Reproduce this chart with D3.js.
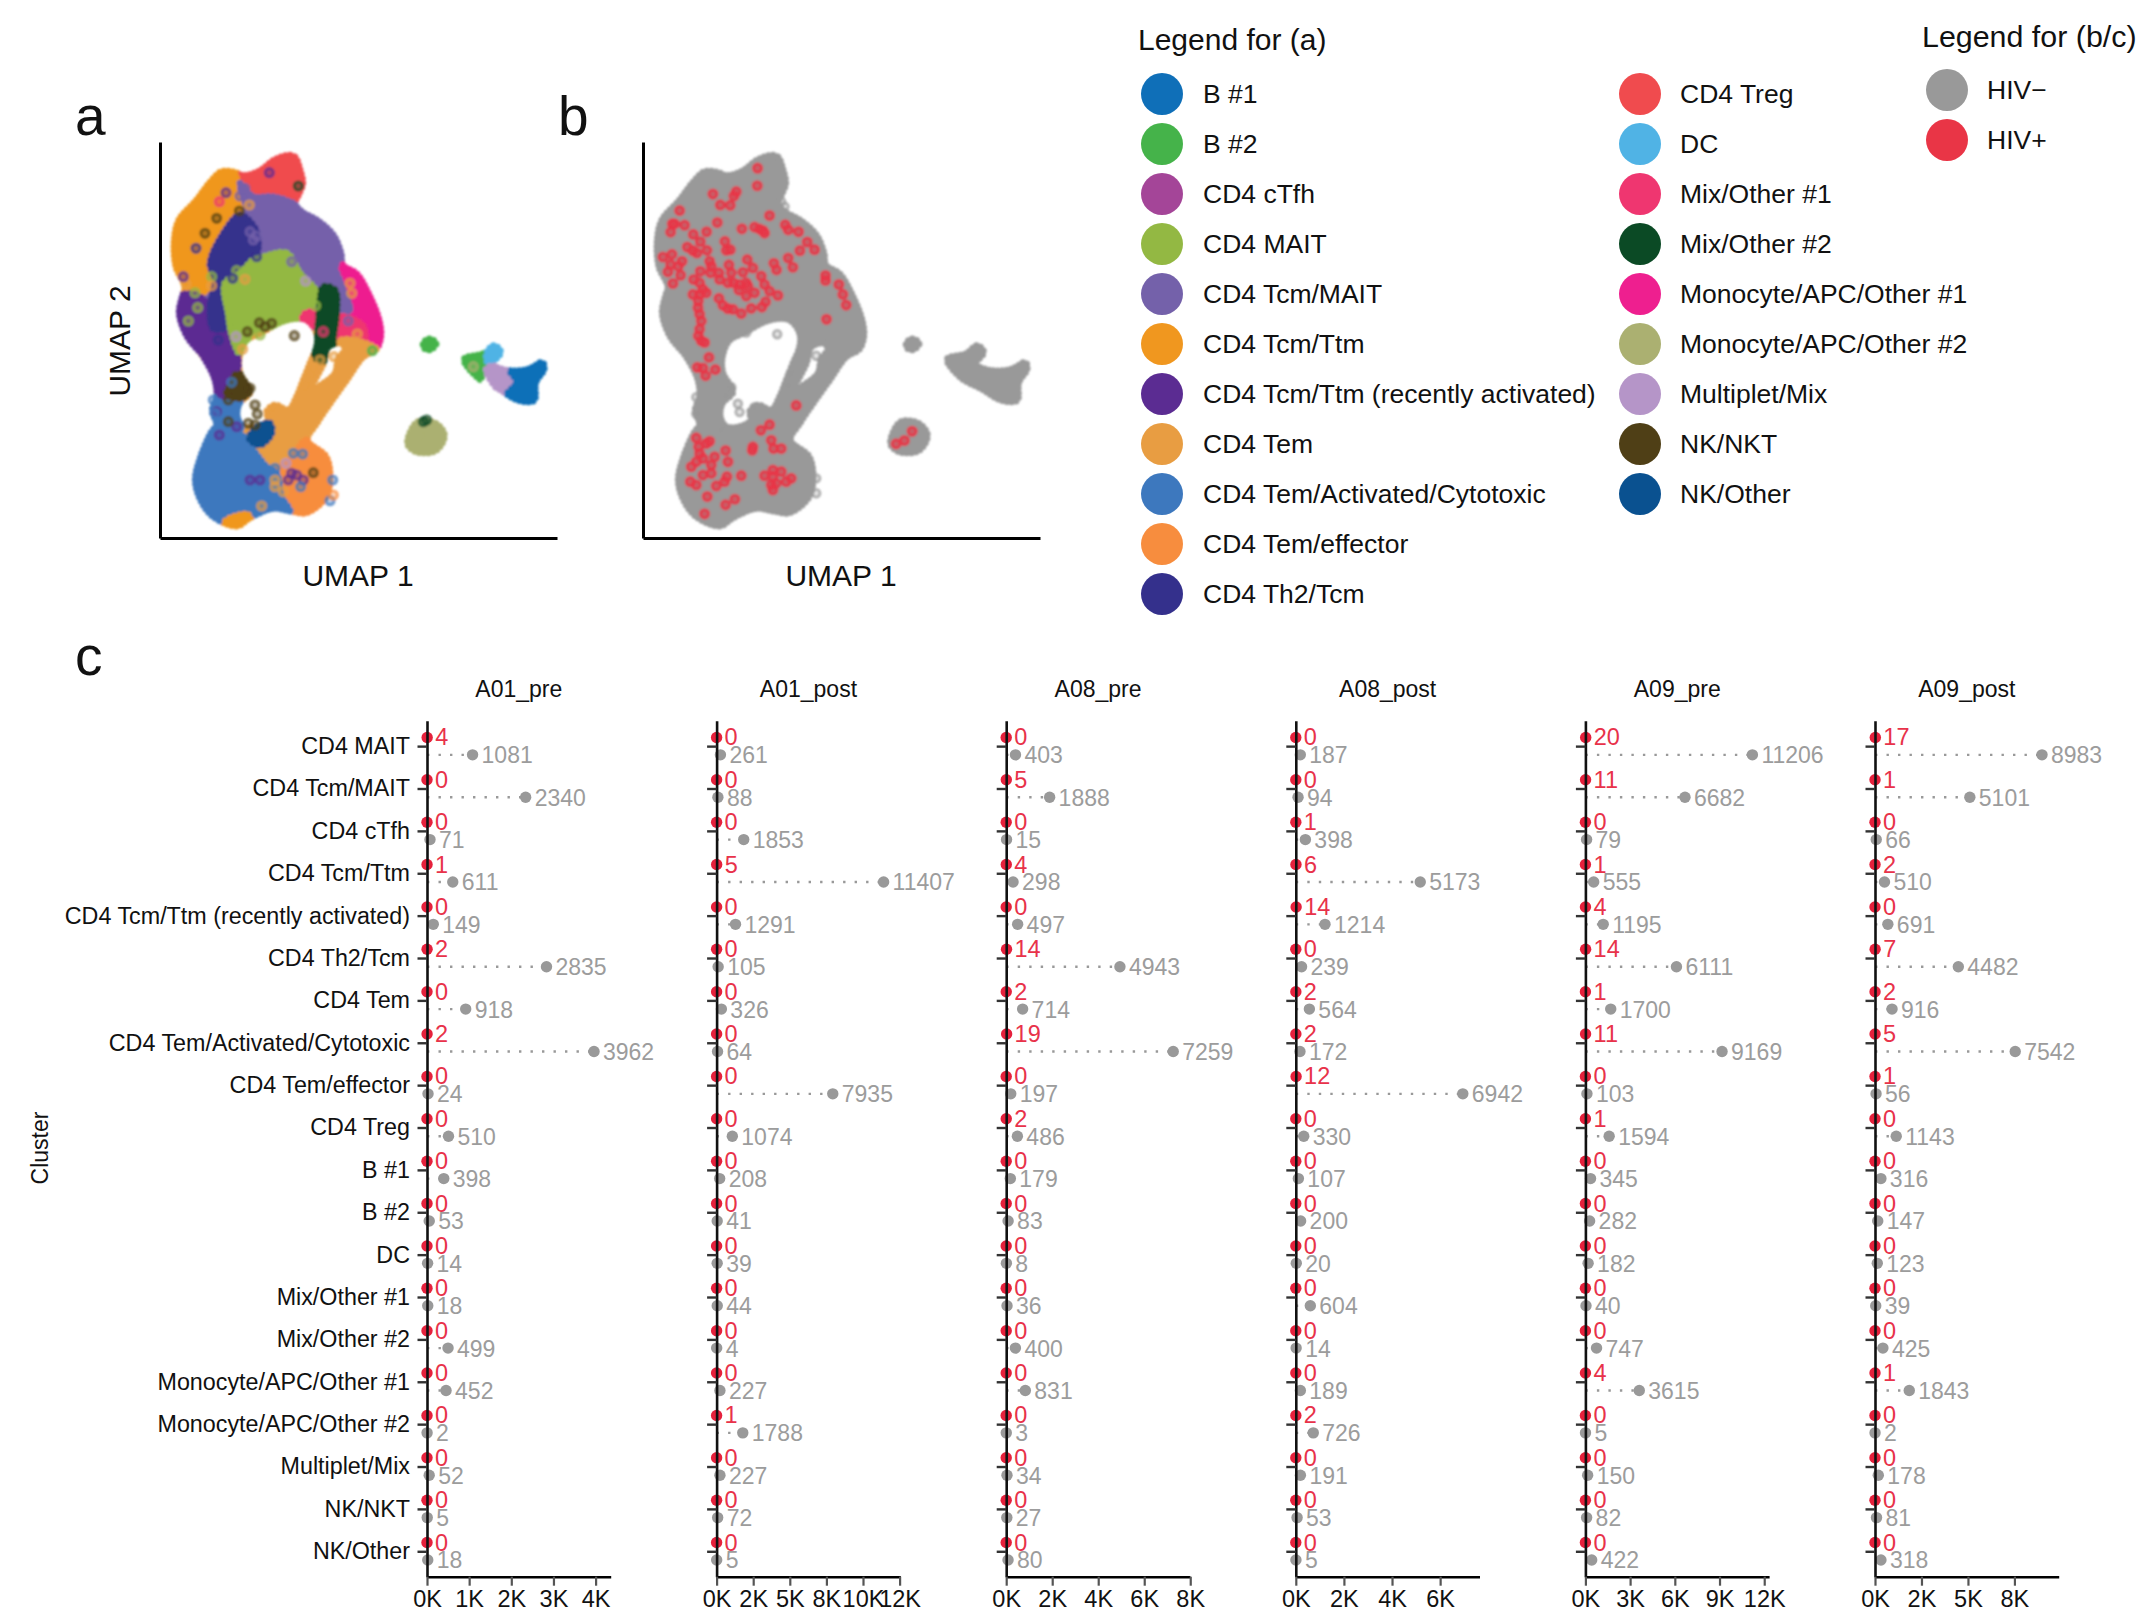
<html>
<head>
<meta charset="utf-8">
<title>UMAP and HIV counts</title>
<script src="https://d3js.org/d3.v7.min.js"></script>
<style>
  body { margin: 0; background: #fff; }
  text { font-family: "Liberation Sans", Helvetica, Arial, sans-serif; fill: #111; }
</style>
</head>
<body>
<script>
// cluster names, top to bottom in panel c
var clusters = ["CD4 MAIT", "CD4 Tcm/MAIT", "CD4 cTfh", "CD4 Tcm/Ttm", "CD4 Tcm/Ttm (recently activated)", "CD4 Th2/Tcm", "CD4 Tem", "CD4 Tem/Activated/Cytotoxic", "CD4 Tem/effector", "CD4 Treg", "B #1", "B #2", "DC", "Mix/Other #1", "Mix/Other #2", "Monocyte/APC/Other #1", "Monocyte/APC/Other #2", "Multiplet/Mix", "NK/NKT", "NK/Other"];

var samples = ["A01_pre", "A01_post", "A08_pre", "A08_post", "A09_pre", "A09_post"];

var hivNeg = [
  [1081, 2340, 71, 611, 149, 2835, 918, 3962, 24, 510, 398, 53, 14, 18, 499, 452, 2, 52, 5, 18],
  [261, 88, 1853, 11407, 1291, 105, 326, 64, 7935, 1074, 208, 41, 39, 44, 4, 227, 1788, 227, 72, 5],
  [403, 1888, 15, 298, 497, 4943, 714, 7259, 197, 486, 179, 83, 8, 36, 400, 831, 3, 34, 27, 80],
  [187, 94, 398, 5173, 1214, 239, 564, 172, 6942, 330, 107, 200, 20, 604, 14, 189, 726, 191, 53, 5],
  [11206, 6682, 79, 555, 1195, 6111, 1700, 9169, 103, 1594, 345, 282, 182, 40, 747, 3615, 5, 150, 82, 422],
  [8983, 5101, 66, 510, 691, 4482, 916, 7542, 56, 1143, 316, 147, 123, 39, 425, 1843, 2, 178, 81, 318]
];
var hivPos = [
  [4, 0, 0, 1, 0, 2, 0, 2, 0, 0, 0, 0, 0, 0, 0, 0, 0, 0, 0, 0],
  [0, 0, 0, 5, 0, 0, 0, 0, 0, 0, 0, 0, 0, 0, 0, 0, 1, 0, 0, 0],
  [0, 5, 0, 4, 0, 14, 2, 19, 0, 2, 0, 0, 0, 0, 0, 0, 0, 0, 0, 0],
  [0, 0, 1, 6, 14, 0, 2, 2, 12, 0, 0, 0, 0, 0, 0, 0, 2, 0, 0, 0],
  [20, 11, 0, 1, 4, 14, 1, 11, 0, 1, 0, 0, 0, 0, 0, 4, 0, 0, 0, 0],
  [17, 1, 0, 2, 0, 7, 2, 5, 1, 0, 0, 0, 0, 0, 0, 1, 0, 0, 0, 0]
];

var xTicks = [
  [0, 1000, 2000, 3000, 4000],
  [0, 2500, 5000, 7500, 10000, 12500],
  [0, 2000, 4000, 6000, 8000],
  [0, 2000, 4000, 6000],
  [0, 3000, 6000, 9000, 12000],
  [0, 2500, 5000, 7500]
];
var xTickLabels = [
  ["0K", "1K", "2K", "3K", "4K"],
  ["0K", "2K", "5K", "8K", "10K", "12K"],
  ["0K", "2K", "4K", "6K", "8K"],
  ["0K", "2K", "4K", "6K"],
  ["0K", "3K", "6K", "9K", "12K"],
  ["0K", "2K", "5K", "8K"]
];

// legend order and colours
var legendA1 = ["B #1", "B #2", "CD4 cTfh", "CD4 MAIT", "CD4 Tcm/MAIT", "CD4 Tcm/Ttm", "CD4 Tcm/Ttm (recently activated)", "CD4 Tem", "CD4 Tem/Activated/Cytotoxic", "CD4 Tem/effector", "CD4 Th2/Tcm"];
var legendA2 = ["CD4 Treg", "DC", "Mix/Other #1", "Mix/Other #2", "Monocyte/APC/Other #1", "Monocyte/APC/Other #2", "Multiplet/Mix", "NK/NKT", "NK/Other"];
var colorsA1 = ["#0f6fb8", "#45b34a", "#a44598", "#93b843", "#7461aa", "#f0971f", "#5b2c92", "#e89d42", "#3d78be", "#f78d3e", "#34308c"];
var colorsA2 = ["#f04b4e", "#50b3e5", "#ef3670", "#0b4a25", "#ee1f8f", "#abb071", "#b595c8", "#4f3f16", "#0a5190"];
var legendHiv = ["HIV\u2212", "HIV+"];
var colorsHiv = ["#999999", "#e93546"];

var color = d3.scaleOrdinal(legendA1.concat(legendA2), colorsA1.concat(colorsA2));

// outline of all cells in UMAP space, the first ring is the main body, then its two holes, then the small islands
var umapOutline = [
  [[385,46],[405,52],[420,90],[428,130],[415,165],[405,190],[425,215],[470,240],[520,285],[543,340],[548,375],[590,402],[625,460],[657,540],[662,590],[648,628],[610,650],[560,720],[510,790],[470,850],[442,900],[498,950],[510,1010],[498,1070],[440,1118],[390,1113],[340,1105],[270,1133],[230,1158],[160,1130],[122,1080],[106,1020],[122,950],[155,875],[170,855],[157,810],[170,770],[165,720],[130,650],[82,590],[58,520],[67,470],[75,440],[48,380],[43,300],[57,240],[110,180],[150,127],[185,95],[225,97],[250,107],[300,92],[340,62]],
  [[470,580],[470,620],[450,670],[430,720],[410,770],[385,810],[345,795],[320,815],[325,840],[290,860],[250,860],[232,830],[238,790],[270,755],[240,700],[238,650],[260,600],[300,580],[380,540],[440,540]],
  [[545,610],[555,630],[535,655],[525,700],[490,730],[450,750],[470,710],[490,670],[505,620]],
  [[790,610],[808,597],[828,610],[812,628],[795,626]],
  [[913,657],[968,642],[1003,617],[1022,637],[997,672],[1047,692],[1107,687],[1147,667],[1152,687],[1127,727],[1122,781],[1077,781],[1017,747],[953,712]],
  [[773,846],[828,851],[853,886],[828,931],[768,935],[743,910]]
];

// panel a: where each cluster sits in UMAP space, back to front, cut to the outline above
var umapRegions = [
  ["CD4 Tcm/MAIT", [[150,40],[450,40],[700,500],[700,660],[460,660],[60,660],[20,400]]],
  ["CD4 Tem", [[120,640],[660,640],[540,1000],[400,1120],[250,1150],[100,1100]]],
  ["CD4 Tcm/Ttm", [[185,70],[260,80],[250,150],[240,210],[190,280],[170,340],[150,380],[165,420],[110,470],[60,480],[20,300],[100,150]]],
  ["CD4 Treg", [[245,100],[300,70],[400,20],[450,100],[430,170],[395,195],[340,170],[285,165],[265,130]]],
  ["CD4 Tcm/MAIT", [[240,130],[280,170],[340,170],[400,190],[440,215],[570,280],[570,380],[545,385],[590,510],[575,530],[540,480],[500,440],[470,420],[420,380],[380,340],[340,360],[310,350],[290,320],[265,280],[270,240]]],
  ["CD4 Tem/Activated/Cytotoxic", [[165,700],[215,720],[240,780],[235,880],[150,880],[150,770]]],
  ["CD4 Tcm/Ttm (recently activated)", [[50,470],[110,465],[150,500],[170,520],[165,570],[215,580],[225,600],[235,680],[220,730],[190,770],[150,720],[130,650],[70,590],[30,530]]],
  ["CD4 Th2/Tcm", [[240,225],[285,265],[295,320],[285,350],[240,400],[205,440],[200,500],[200,560],[160,565],[150,500],[165,420],[150,370],[190,280]]],
  ["CD4 MAIT", [[310,350],[380,340],[420,400],[470,460],[440,520],[400,540],[340,560],[280,570],[260,610],[240,640],[215,580],[205,520],[195,430],[240,400],[280,360]]],
  ["Monocyte/APC/Other #1", [[545,375],[600,400],[640,470],[690,540],[680,620],[640,640],[610,620],[600,560],[580,530],[590,510],[560,420]]],
  ["Mix/Other #1", [[530,530],[570,535],[610,560],[610,625],[570,610],[540,590],[520,560]]],
  ["Mix/Other #1", [[430,525],[460,515],[475,545],[450,560],[430,550]]],
  ["CD4 Tem", [[545,600],[655,635],[570,730],[520,800],[475,860],[445,905],[395,950],[340,985],[310,985],[278,940],[325,915],[335,870],[320,810],[385,790],[440,730],[480,640],[510,640]]],
  ["Mix/Other #2", [[490,440],[525,450],[530,520],[520,600],[520,640],[490,665],[465,650],[470,600],[475,540],[480,480]]],
  ["CD4 Tem/effector", [[440,900],[510,970],[530,1040],[500,1080],[450,1130],[385,1110],[360,1070],[345,1000],[395,955]]],
  ["CD4 Tem/Activated/Cytotoxic", [[160,860],[240,880],[280,930],[320,980],[350,1000],[365,1070],[390,1120],[270,1160],[200,1180],[120,1120],[80,1020],[110,920]]],
  ["CD4 Tcm/Ttm", [[195,1145],[265,1125],[270,1170],[200,1170]]],
  ["NK/NKT", [[225,705],[250,705],[280,745],[240,775],[200,760],[215,730]]],
  ["NK/Other", [[295,858],[330,850],[335,880],[300,915],[268,895]]],
  ["B #2", [[785,600],[810,585],[840,605],[815,640],[790,635]]],
  ["B #2", [[905,654],[960,634],[995,664],[975,695],[950,725],[925,695]]],
  ["DC", [[980,644],[1005,605],[1035,633],[1010,669],[985,669]]],
  ["Multiplet/Mix", [[980,685],[1050,685],[1075,726],[1045,767],[1010,745]]],
  ["B #1", [[1050,690],[1100,680],[1145,650],[1175,680],[1140,726],[1140,800],[1090,805],[1040,767],[1070,726]]],
  ["Monocyte/APC/Other #2", [[730,830],[870,830],[870,950],[730,950]]]
];

// panel a: single cells that stand out from their cluster, grouped by cluster
var umapCells = [
  ["CD4 MAIT", [[230,392],[205,437],[280,398],[260,455],[113,503],[85,543],[467,497],[218,530],[225,560],[300,585],[105,458],[155,410]]],
  ["CD4 Tcm/MAIT", [[255,145],[240,168],[290,288],[270,275],[395,365],[565,543],[280,300]]],
  ["CD4 Th2/Tcm", [[290,350],[218,415],[175,600],[108,325]]],
  ["CD4 Tem", [[268,195],[255,418],[155,437],[78,433],[570,430],[575,460],[592,582],[248,628],[522,650],[480,660],[460,690],[445,707],[435,745],[340,808],[345,1020],[370,1055],[305,1098],[345,1040]]],
  ["CD4 Tcm/Ttm (recently activated)", [[328,98],[198,158],[70,410],[170,815],[178,885],[230,860],[300,1020],[395,1000],[385,1020],[410,1005],[430,1020],[270,1020]]],
  ["Mix/Other #2", [[415,138],[790,845],[800,840]]],
  ["Mix/Other #1", [[178,185],[490,575],[450,535]]],
  ["NK/NKT", [[238,213],[135,280],[170,235],[298,548],[315,560],[335,550],[262,575],[403,587],[205,780],[205,845],[285,795],[292,822],[265,850],[285,855],[460,998],[255,745],[270,745]]],
  ["Multiplet/Mix", [[437,423],[378,970],[228,590]]],
  ["B #2", [[637,632]]],
  ["CD4 Tem/Activated/Cytotoxic", [[215,727],[160,780],[428,942],[400,940],[345,985],[422,1040],[518,1020],[510,1082],[165,820]]],
  ["CD4 Tem/effector", [[520,1065]]],
  ["Monocyte/APC/Other #2", [[940,680],[780,895],[790,885]]]
];

// panel b: cells, in the units of that crop
var hivNegCells = [[533,645],[573,765],[415,855],[420,880],[650,710],[555,260],[650,1080],[650,1125],[290,835],[290,885],[395,805],[380,830],[565,800],[465,865],[365,935],[440,640],[545,245]];
var hivPosCells = [[474,144],[473,197],[340,222],[410,215],[403,228],[362,255],[392,256],[240,272],[510,287],[353,308],[218,312],[225,312],[255,316],[213,337],[281,344],[321,336],[427,327],[465,322],[480,328],[490,332],[495,340],[557,315],[566,330],[597,336],[302,366],[376,365],[623,367],[263,382],[280,393],[292,400],[322,392],[380,392],[392,390],[645,390],[601,393],[190,412],[217,404],[213,435],[247,425],[236,440],[205,457],[243,467],[220,492],[330,425],[335,440],[443,420],[388,436],[460,445],[523,431],[531,451],[566,415],[580,443],[302,455],[333,460],[358,460],[395,460],[430,458],[402,490],[678,468],[678,483],[485,470],[282,480],[300,490],[360,480],[385,490],[420,495],[440,490],[495,495],[718,495],[418,512],[445,500],[510,515],[535,528],[465,520],[310,510],[280,525],[300,525],[320,520],[730,525],[358,537],[440,530],[296,545],[498,547],[370,558],[385,568],[400,570],[740,557],[295,565],[300,585],[425,583],[455,567],[487,563],[305,605],[681,600],[300,630],[296,650],[305,665],[315,670],[328,715],[293,745],[310,747],[347,752],[318,770],[590,860],[510,918],[484,935],[938,938],[915,966],[890,976],[290,958],[330,968],[515,965],[297,985],[320,975],[460,985],[458,995],[522,990],[545,990],[378,996],[300,1005],[310,1020],[345,1015],[290,1030],[275,1045],[385,1030],[425,1072],[335,1040],[520,1055],[545,1060],[495,1072],[335,1065],[310,1070],[382,1075],[520,1075],[575,1080],[560,1090],[272,1090],[290,1100],[375,1090],[350,1103],[515,1100],[530,1095],[520,1115],[323,1135],[406,1143],[378,1160],[315,1187]];

var svg = d3.select("body").append("svg").attr("width", 2142).attr("height", 1619);
var defs = svg.append("defs");

// soft edge, the clouds are many overlapping translucent dots
defs.append("filter").attr("id", "soft")
    .attr("x", "-5%").attr("y", "-5%").attr("width", "110%").attr("height", "110%")
    .append("feGaussianBlur").attr("stdDeviation", 1.3);

function panelLetter(t, x, y) {
    svg.append("text").attr("x", x).attr("y", y).attr("font-size", 55).text(t);
}
panelLetter("a", 75, 135);
panelLetter("b", 558, 135);
panelLetter("c", 75, 675);

function drawUmapAxes(g, xs, ys) {
    g.append("g").attr("transform", "translate(0," + ys.range()[0] + ")")
        .call(d3.axisBottom(xs).tickValues([]).tickSizeOuter(0))
        .select(".domain").attr("stroke", "#000").attr("stroke-width", 3);
    g.append("g").attr("transform", "translate(" + xs.range()[0] + ",0)")
        .call(d3.axisLeft(ys).tickValues([]).tickSizeOuter(0))
        .select(".domain").attr("stroke", "#000").attr("stroke-width", 3);
    g.append("text").attr("x", (xs.range()[0] + xs.range()[1]) / 2 - 0.5).attr("y", 586)
        .attr("text-anchor", "middle").attr("font-size", 30).text("UMAP 1");
}

function blob(xs, ys) {
    return d3.line().x(function (d) { return xs(d[0]); }).y(function (d) { return ys(d[1]); })
        .curve(d3.curveCatmullRomClosed.alpha(0.5));
}

// draws the outline with a dotted round stroke so the rim looks like a row of cells
function drawOutline(parent, xs, ys, fill) {
    parent.append("path")
        .attr("d", umapOutline.map(function (d) { return blob(xs, ys)(d); }).join(""))
        .attr("fill", fill).attr("fill-rule", "evenodd")
        .attr("stroke", fill).attr("stroke-width", 7)
        .attr("stroke-linecap", "round").attr("stroke-dasharray", "0 4.5");
}

// ---- panel a
var xA = d3.scaleLinear().domain([0, 1191]).range([160, 557]);
var yA = d3.scaleLinear().domain([1194, 6]).range([538, 142]);
drawOutline(defs.append("mask").attr("id", "cells").attr("maskUnits", "userSpaceOnUse")
    .attr("x", 0).attr("y", 0).attr("width", 2142).attr("height", 1619), xA, yA, "#fff");

var panelA = svg.append("g");
var cloudA = panelA.append("g").attr("filter", "url(#soft)");
cloudA.append("g").attr("mask", "url(#cells)")
    .selectAll("path").data(umapRegions).enter().append("path")
    .attr("d", function (d) { return blob(xA, yA)(d[1]); })
    .attr("fill", function (d) { return color(d[0]); })
    .attr("stroke", function (d) { return color(d[0]); })
    .attr("stroke-width", 7)
    .attr("stroke-linecap", "round").attr("stroke-dasharray", "0 5");
cloudA.selectAll(".cells").data(umapCells).enter().append("g").attr("class", "cells")
    .selectAll("circle").data(function (d) { return d[1].map(function (p) { return [p[0], p[1], d[0]]; }); })
    .enter().append("circle")
    .attr("cx", function (d) { return xA(d[0]); })
    .attr("cy", function (d) { return yA(d[1]); })
    .attr("r", 4)
    .attr("fill", function (d) { return color(d[2]); }).attr("fill-opacity", 0.5)
    .attr("stroke", function (d) { return color(d[2]); })
    .attr("stroke-width", 3.2)
    .attr("opacity", 0.75);
drawUmapAxes(panelA, xA, yA);
panelA.append("text").attr("transform", "translate(130,341)rotate(-90)")
    .attr("text-anchor", "middle").attr("font-size", 30).text("UMAP 2");

// ---- panel b
var xB = d3.scaleLinear().domain([0, 1191]).range([643, 1040]);
var yB = d3.scaleLinear().domain([1194, 6]).range([538, 142]);
var xCell = d3.scaleLinear().domain([130, 1325]).range([643, 1041]);
var yCell = d3.scaleLinear().domain([1260, 65]).range([538, 142]);
var panelB = svg.append("g");
var cloudB = panelB.append("g").attr("filter", "url(#soft)");
drawOutline(cloudB, xB, yB, colorsHiv[0]);
cloudB.selectAll(".neg").data(hivNegCells).enter().append("circle").attr("class", "neg")
    .attr("cx", function (d) { return xCell(d[0]); })
    .attr("cy", function (d) { return yCell(d[1]); })
    .attr("r", 3.8).attr("fill", colorsHiv[0]).attr("fill-opacity", 0.35)
    .attr("stroke", colorsHiv[0]).attr("stroke-width", 2.8).attr("opacity", 0.75);
cloudB.selectAll(".pos").data(hivPosCells).enter().append("circle").attr("class", "pos")
    .attr("cx", function (d) { return xCell(d[0]); })
    .attr("cy", function (d) { return yCell(d[1]); })
    .attr("r", 4).attr("fill", colorsHiv[1]).attr("fill-opacity", 0.65)
    .attr("stroke", colorsHiv[1]).attr("stroke-width", 3.2).attr("opacity", 0.9);
drawUmapAxes(panelB, xB, yB);

// ---- legends
function drawLegend(names, colors, cx, tx, y0) {
    var g = svg.append("g");
    var row = d3.scalePoint().domain(names).range([y0, y0 + 50 * (names.length - 1)]);
    g.selectAll("circle").data(names).enter().append("circle")
        .attr("cx", cx).attr("cy", function (d) { return row(d); })
        .attr("r", 21).attr("fill", function (d, i) { return colors[i]; });
    g.selectAll("text").data(names).enter().append("text")
        .attr("x", tx).attr("y", function (d) { return row(d) + 2; })
        .attr("dominant-baseline", "middle").attr("font-size", 26.5).text(function (d) { return d; });
}
svg.append("text").attr("x", 1138).attr("y", 50).attr("font-size", 30).text("Legend for (a)");
svg.append("text").attr("x", 1922).attr("y", 47).attr("font-size", 30.4).text("Legend for (b/c)");
drawLegend(legendA1, colorsA1, 1162, 1203, 94);
drawLegend(legendA2, colorsA2, 1640, 1680, 94);
drawLegend(legendHiv, colorsHiv, 1947, 1987, 90);

// ---- panel c
var panelWidth = 183.7, panelStep = 289.6, firstLeft = 427;
var y = d3.scalePoint().domain(clusters).range([720.7, 1576.7]).padding(0.6);
var dodge = 8.7;

samples.forEach(function (s, k) {
    var neg = hivNeg[k], pos = hivPos[k];
    var x = d3.scaleLinear().domain([0, d3.max(neg) * 1.1]).range([0, panelWidth]);
    var g = svg.append("g").attr("transform", "translate(" + (firstLeft + k * panelStep) + ",0)");

    g.append("text").attr("x", panelWidth / 2).attr("y", 697).attr("text-anchor", "middle")
        .attr("font-size", 23).text(s);

    g.selectAll(".stem").data(clusters).enter().append("line").attr("class", "stem")
        .attr("x1", 0).attr("x2", function (d, i) { return x(neg[i]); })
        .attr("y1", function (d) { return y(d) + dodge; })
        .attr("y2", function (d) { return y(d) + dodge; })
        .attr("stroke", "#999").attr("stroke-width", 2.4)
        .attr("stroke-dasharray", "2.4 9.1");

    g.selectAll(".negDot").data(clusters).enter().append("circle").attr("class", "negDot")
        .attr("cx", function (d, i) { return x(neg[i]); })
        .attr("cy", function (d) { return y(d) + dodge; })
        .attr("r", 5.7).attr("fill", "#999");
    g.selectAll(".posDot").data(clusters).enter().append("circle").attr("class", "posDot")
        .attr("cx", function (d, i) { return x(pos[i]); })
        .attr("cy", function (d) { return y(d) - dodge; })
        .attr("r", 5.7).attr("fill", "#e5213c");

    g.selectAll(".negLab").data(clusters).enter().append("text").attr("class", "negLab")
        .attr("x", function (d, i) { return x(neg[i]) + 9; })
        .attr("y", function (d) { return y(d) + dodge + 8.5; })
        .attr("font-size", 23).style("fill", "#9c9c9c")
        .text(function (d, i) { return neg[i]; });
    g.selectAll(".posLab").data(clusters).enter().append("text").attr("class", "posLab")
        .attr("x", function (d, i) { return x(pos[i]) + 8; })
        .attr("y", function (d) { return y(d) - dodge + 8; })
        .attr("font-size", 23.5).style("fill", "#e8324a")
        .text(function (d, i) { return pos[i]; });

    var yAxis = d3.axisLeft(y).tickSize(9.5).tickSizeOuter(0).tickPadding(7.5);
    if (k > 0) yAxis.tickFormat("");
    var ya = g.append("g").call(yAxis);
    ya.select(".domain").attr("stroke", "#111").attr("stroke-width", 2.6);
    ya.selectAll(".tick line").attr("stroke", "#333").attr("stroke-width", 2.4);
    ya.selectAll("text").attr("font-size", 23.3).attr("font-family", "Liberation Sans").style("fill", "#111");

    var xAxis = d3.axisBottom(x).tickValues(xTicks[k]).tickSize(9).tickSizeOuter(0).tickPadding(5)
        .tickFormat(function (d, i) { return xTickLabels[k][i]; });
    var xa = g.append("g").attr("transform", "translate(0,1576.7)").call(xAxis);
    xa.select(".domain").attr("stroke", "#000").attr("stroke-width", 2.6);
    xa.selectAll(".tick line").attr("stroke", "#555").attr("stroke-width", 2.2);
    xa.selectAll("text").attr("font-size", 23.5).attr("font-family", "Liberation Sans").style("fill", "#111");
});

svg.append("text").attr("transform", "translate(48,1148)rotate(-90)")
    .attr("text-anchor", "middle").attr("font-size", 23).text("Cluster");
</script>
</body>
</html>
